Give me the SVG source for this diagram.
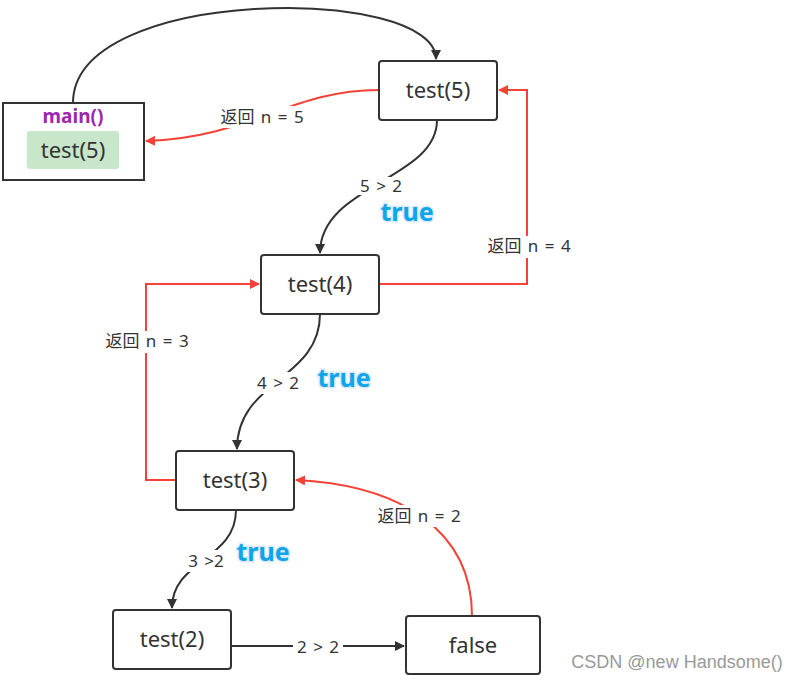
<svg xmlns="http://www.w3.org/2000/svg" width="800" height="681" viewBox="0 0 800 681">
<defs>
<marker id="ab" viewBox="0 0 10 10" refX="9" refY="5" markerWidth="10" markerHeight="10" markerUnits="userSpaceOnUse" orient="auto"><path d="M0,0 L10,5 L0,10 z" fill="#333"/></marker>
<marker id="ar" viewBox="0 0 10 10" refX="9" refY="5" markerWidth="10" markerHeight="10" markerUnits="userSpaceOnUse" orient="auto"><path d="M0,0 L10,5 L0,10 z" fill="#f44336"/></marker>
</defs>
<style>
.node{fill:#fff;stroke:#333;stroke-width:2}
.nt{font-family:"Noto Sans","Liberation Sans",sans-serif;font-size:22px;fill:#333;text-anchor:middle}
.blk{fill:none;stroke:#333;stroke-width:2}
.red{fill:none;stroke:#f44336;stroke-width:2}
.lbl{font-family:"Noto Sans","Noto Sans CJK SC",sans-serif;font-size:17px;fill:#333;text-anchor:middle;word-spacing:2px}
.bg{fill:#fff}
.tr{font-family:"Noto Sans","Liberation Sans",sans-serif;font-size:25px;font-weight:bold;fill:#0ea5e9;stroke:#dbeafe;stroke-width:3;paint-order:stroke;text-anchor:middle}
</style>
<rect width="800" height="681" fill="#fff"/>
<g id="connectors">
<path class="blk" d="M73,103 C73,-15 436,-15 436,59" marker-end="url(#ab)"/>
<path class="red" d="M379,90 C290,90 250,138 146,141" marker-end="url(#ar)"/>
<rect class="bg" x="214" y="106" width="96" height="22"/>
<text class="lbl" x="262" y="123">返回 n = 5</text>
<path class="blk" d="M437,120 C437,180 320,185 320,253" marker-end="url(#ab)"/>
<rect class="bg" x="356" y="177" width="50" height="18"/>
<text class="lbl" x="381" y="192">5 &gt; 2</text>
<path class="red" d="M379,284 H527 V90 H499" marker-end="url(#ar)"/>
<rect class="bg" x="484" y="236" width="90" height="22"/>
<text class="lbl" x="529" y="252">返回 n = 4</text>
<path class="blk" d="M320,314 C320,380 237,380 237,449" marker-end="url(#ab)"/>
<rect class="bg" x="252" y="372" width="54" height="22"/>
<text class="lbl" x="278" y="389">4 &gt; 2</text>
<path class="red" d="M176,480 H146 V284 H259" marker-end="url(#ar)"/>
<rect class="bg" x="101" y="331" width="92" height="22"/>
<text class="lbl" x="147" y="347">返回 n = 3</text>
<path class="blk" d="M236,510 C236,560 172,560 172,608" marker-end="url(#ab)"/>
<rect class="bg" x="184" y="550" width="46" height="22"/>
<text class="lbl" x="206" y="567">3 &gt;2</text>
<path class="red" d="M472,616 C472,530 400,485 296,480" marker-end="url(#ar)"/>
<rect class="bg" x="372" y="505" width="94" height="22"/>
<text class="lbl" x="419" y="522">返回 n = 2</text>
<path class="blk" d="M231,646 H404" marker-end="url(#ab)"/>
<rect class="bg" x="293" y="636" width="50" height="22"/>
<text class="lbl" x="318" y="653">2 &gt; 2</text>
<text class="tr" x="407" y="221">true</text>
<text class="tr" x="344" y="387">true</text>
<text class="tr" x="263" y="561">true</text>
</g>
<g id="main">
<rect x="3" y="103" width="141" height="77" fill="#fff" stroke="#333" stroke-width="2"/>
<text x="73" y="123" font-family="'Noto Sans','Liberation Sans',sans-serif" font-size="19" font-weight="bold" fill="#9c27b0" text-anchor="middle">main()</text>
<rect x="27" y="131" width="92" height="38" rx="3" fill="#c8e6c9"/>
<text class="nt" x="73" y="158">test(5)</text>
</g>
<g id="test5">
<rect class="node" x="379" y="61" width="118" height="59" rx="3"/>
<text class="nt" x="438" y="98">test(5)</text>
</g>
<g id="test4">
<rect class="node" x="261" y="255" width="118" height="59" rx="3"/>
<text class="nt" x="320" y="292">test(4)</text>
</g>
<g id="test3">
<rect class="node" x="176" y="451" width="118" height="59" rx="3"/>
<text class="nt" x="235" y="488">test(3)</text>
</g>
<g id="test2">
<rect class="node" x="113" y="610" width="118" height="59" rx="3"/>
<text class="nt" x="172" y="647">test(2)</text>
</g>
<g id="false">
<rect class="node" x="406" y="616" width="134" height="58" rx="3"/>
<text class="nt" x="473" y="653">false</text>
</g>
<text x="677" y="668" font-family="'Liberation Sans',sans-serif" font-size="18" fill="#999" text-anchor="middle">CSDN @new Handsome()</text>
</svg>
